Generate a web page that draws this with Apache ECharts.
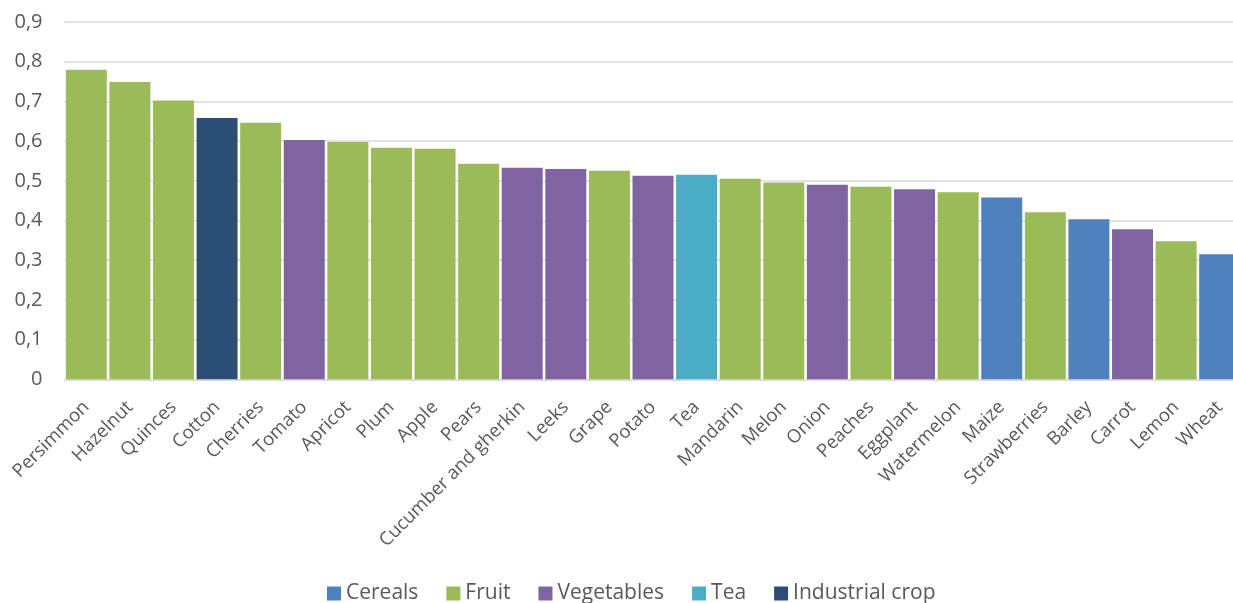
<!DOCTYPE html>
<html>
<head>
<meta charset="utf-8">
<script src="https://cdn.jsdelivr.net/npm/echarts@6/dist/echarts.min.js"></script>
<style>
  html, body { margin: 0; padding: 0; background: #fff; }
  #chart { width: 1233px; height: 603px; }
</style>
</head>
<body>
<div id="chart"></div>
<script>
// Crops ranked by value, each tagged with its crop group
const categories = ['Persimmon', 'Hazelnut', 'Quinces', 'Cotton', 'Cherries', 'Tomato', 'Apricot', 'Plum', 'Apple', 'Pears',
  'Cucumber and gherkin', 'Leeks', 'Grape', 'Potato', 'Tea', 'Mandarin', 'Melon', 'Onion', 'Peaches', 'Eggplant',
  'Watermelon', 'Maize', 'Strawberries', 'Barley', 'Carrot', 'Lemon', 'Wheat'];
const values = [0.780, 0.749, 0.702, 0.658, 0.646, 0.603, 0.598, 0.583, 0.581, 0.543,
  0.533, 0.530, 0.525, 0.513, 0.515, 0.505, 0.496, 0.490, 0.485, 0.479,
  0.471, 0.458, 0.421, 0.403, 0.378, 0.348, 0.315];
const groups = ['Fruit', 'Fruit', 'Fruit', 'Industrial crop', 'Fruit', 'Vegetables', 'Fruit', 'Fruit', 'Fruit', 'Fruit',
  'Vegetables', 'Vegetables', 'Fruit', 'Vegetables', 'Tea', 'Fruit', 'Fruit', 'Vegetables', 'Fruit', 'Vegetables',
  'Fruit', 'Cereals', 'Fruit', 'Cereals', 'Vegetables', 'Fruit', 'Cereals'];
const groupNames = ['Cereals', 'Fruit', 'Vegetables', 'Tea', 'Industrial crop'];
const groupColors = ['#4f81bd', '#9bbb59', '#8064a2', '#4bacc6', '#2c4d75'];
const yTicks = { min: 0, max: 0.9, step: 0.1 };

const textColor = '#595959';
const font = '"Open Sans", sans-serif';

// One series per group; bars overlap in the same slot so each category shows a single bar
const series = groupNames.map((g, gi) => ({
  name: g,
  type: 'bar',
  barGap: '-100%',
  barCategoryGap: '6%',
  itemStyle: { color: groupColors[gi] },
  data: values.map((v, i) => groups[i] === g ? v : '-')
}));

const chart = echarts.init(document.getElementById('chart'));
chart.setOption({
  animation: false,
  backgroundColor: '#fff',
  grid: { left: 64.5, top: 22, width: 1177, bottom: 223.7, containLabel: false, outerBoundsMode: 'none' },
  legend: {
    data: groupNames,
    left: 322,
    top: 578,
    icon: 'rect',
    itemWidth: 14,
    itemHeight: 14,
    itemGap: 28,
    textStyle: { color: textColor, fontFamily: font, fontSize: 21 }
  },
  xAxis: {
    type: 'category',
    data: categories,
    axisLine: { show: true, lineStyle: { color: '#d9d9d9', width: 1.5 } },
    axisTick: { show: false },
    axisLabel: {
      interval: 0,
      rotate: 45,
      margin: 25,
      color: textColor,
      fontFamily: font,
      fontSize: 18.5
    }
  },
  yAxis: {
    type: 'value',
    min: yTicks.min,
    max: yTicks.max,
    interval: yTicks.step,
    axisLine: { show: false },
    axisTick: { show: false },
    splitLine: { lineStyle: { color: '#d9d9d9', width: 1.5 } },
    axisLabel: {
      margin: 22,
      color: textColor,
      fontFamily: font,
      fontSize: 20,
      formatter: v => v === 0 ? '0' : v.toFixed(1).replace('.', ',')
    }
  },
  series: series
});
</script>
</body>
</html>
